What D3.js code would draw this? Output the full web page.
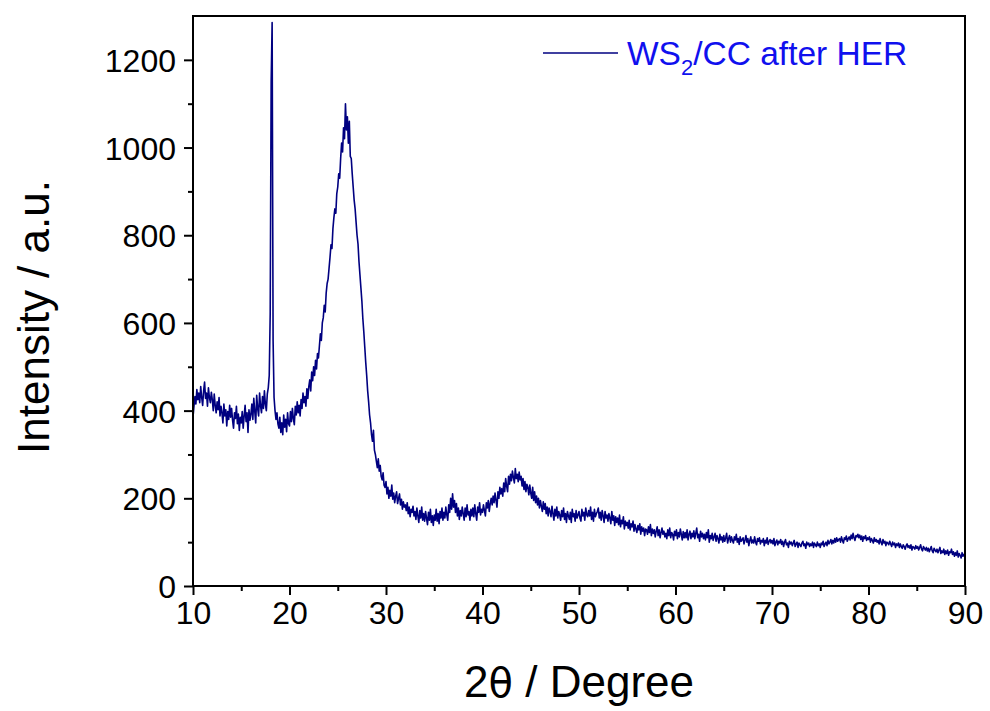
<!DOCTYPE html>
<html>
<head>
<meta charset="utf-8">
<script src="https://cdn.jsdelivr.net/npm/d3@7"></script>
<style>
  html, body { margin: 0; padding: 0; background: #fff; }
  svg { display: block; font-family: "Liberation Sans", Arial, sans-serif; }
</style>
</head>
<body>
<svg id="chart" width="990" height="711"></svg>
<script>
// ---- data ----
const xStart = 10, xStep = 0.1;   // 2θ sampling grid (degrees)
const intensity = [
  385, 410, 432, 415, 448, 425, 440, 418, 455, 430,   // 10
  412, 445, 465, 428, 440, 410, 452, 430, 418, 442,   // 11
  425, 400, 438, 412, 395, 420, 402, 430, 388, 410,   // 12
  395, 372, 415, 388, 402, 365, 398, 380, 412, 385,   // 13
  405, 378, 360, 395, 382, 410, 370, 392, 355, 385,   // 14
  372, 398, 360, 388, 412, 375, 395, 350, 402, 378,   // 15
  392, 415, 380, 428, 398, 372, 435, 405, 388, 440,   // 16
  410, 395, 432, 405, 445, 415, 400, 438, 452, 480,   // 17
  620, 1150, 1285, 560, 430, 400, 380, 395, 370, 360, // 18
  385, 350, 372, 345, 390, 362, 380, 352, 395, 370,   // 19
  365, 398, 375, 405, 382, 368, 410, 390, 420, 395,   // 20
  412, 388, 425, 405, 440, 418, 432, 410, 450, 428,   // 21
  455, 470, 445, 488, 468, 500, 480, 515, 495, 530,   // 22
  520, 548, 575, 560, 600, 612, 640, 625, 668, 690,   // 23
  700, 725, 750, 778, 770, 815, 840, 860, 850, 895,   // 24
  910, 940, 930, 975, 1010, 990, 1045, 1020, 1100, 1040, // 25
  1070, 1010, 1060, 980, 975, 940, 910, 880, 860, 830,   // 26
  800, 780, 740, 710, 680, 650, 610, 580, 545, 510,   // 27
  480, 445, 420, 390, 372, 345, 330, 355, 310, 300,   // 28
  285, 270, 290, 262, 275, 250, 242, 258, 230, 225,   // 29
  238, 210, 225, 200, 218, 205, 230, 198, 212, 190,   // 30
  205, 215, 188, 200, 210, 185, 198, 175, 192, 180,   // 31
  185, 172, 190, 165, 180, 158, 175, 168, 182, 160,   // 32
  170, 152, 178, 160, 145, 172, 155, 180, 150, 165,   // 33
  148, 170, 155, 140, 168, 150, 175, 145, 160, 138,   // 34
  162, 150, 175, 148, 165, 142, 170, 155, 178, 150,   // 35
  168, 155, 180, 162, 150, 185, 168, 200, 175, 210,   // 36
  180, 195, 168, 188, 160, 178, 152, 172, 160, 180,   // 37
  165, 150, 178, 158, 185, 162, 170, 150, 175, 160,   // 38
  178, 158, 185, 165, 150, 180, 168, 190, 162, 175,   // 39
  168, 185, 172, 160, 190, 178, 195, 170, 188, 200,   // 40
  185, 205, 190, 212, 195, 180, 215, 200, 225, 210,   // 41
  222, 205, 235, 215, 245, 228, 215, 250, 232, 255,   // 42
  240, 262, 248, 235, 268, 245, 255, 238, 260, 242,   // 43
  250, 228, 245, 220, 238, 215, 232, 225, 208, 230,   // 44
  212, 200, 225, 195, 215, 190, 205, 185, 200, 178,   // 45
  195, 182, 170, 192, 175, 188, 165, 180, 160, 178,   // 46
  170, 158, 182, 165, 150, 175, 160, 180, 155, 170,   // 47
  162, 150, 172, 158, 178, 152, 165, 145, 170, 160,   // 48
  152, 168, 145, 175, 158, 165, 148, 172, 155, 162,   // 49
  170, 155, 148, 175, 160, 168, 150, 178, 162, 158,   // 50
  172, 160, 180, 152, 168, 148, 175, 158, 165, 170,   // 51
  178, 155, 168, 150, 172, 160, 145, 170, 155, 162,   // 52
  148, 165, 155, 142, 170, 150, 160, 138, 158, 145,   // 53
  155, 140, 162, 135, 150, 142, 158, 130, 148, 138,   // 54
  145, 132, 150, 128, 142, 135, 148, 125, 140, 130,   // 55
  122, 138, 128, 142, 118, 135, 125, 132, 115, 130,   // 56
  128, 118, 135, 122, 140, 115, 130, 120, 128, 112,   // 57
  125, 135, 115, 128, 110, 122, 132, 118, 125, 112,   // 58
  120, 108, 128, 115, 132, 110, 122, 118, 105, 125,   // 59
  115, 128, 108, 122, 112, 130, 118, 105, 124, 110,   // 60
  122, 110, 128, 105, 118, 125, 108, 120, 112, 126,   // 61
  108, 120, 132, 110, 118, 102, 125, 112, 120, 108,   // 62
  118, 105, 122, 110, 128, 100, 115, 108, 120, 104,   // 63
  112, 120, 102, 115, 108, 98, 118, 105, 112, 100,    // 64
  115, 102, 110, 120, 98, 108, 115, 100, 112, 104,    // 65
  98, 112, 105, 118, 100, 108, 95, 112, 102, 106,     // 66
  110, 96, 105, 115, 100, 108, 92, 104, 112, 98,      // 67
  105, 98, 112, 100, 94, 108, 102, 110, 96, 104,      // 68
  100, 108, 92, 104, 98, 110, 95, 102, 106, 98,       // 69
  104, 96, 108, 92, 100, 105, 94, 102, 98, 106,       // 70
  95, 102, 90, 100, 106, 94, 98, 88, 102, 96,         // 71
  100, 92, 98, 104, 90, 96, 100, 88, 98, 94,          // 72
  90, 98, 102, 92, 96, 86, 100, 94, 98, 90,           // 73
  96, 92, 100, 88, 98, 94, 90, 100, 92, 96,           // 74
  88, 98, 94, 102, 90, 96, 100, 92, 104, 96,          // 75
  100, 106, 96, 104, 98, 108, 100, 110, 102, 106,     // 76
  108, 100, 112, 104, 98, 110, 106, 114, 102, 108,    // 77
  112, 105, 116, 108, 120, 110, 104, 115, 112, 118,   // 78
  110, 116, 106, 114, 102, 112, 108, 115, 104, 110,   // 79
  106, 112, 100, 108, 104, 98, 110, 102, 106, 100,    // 80
  104, 96, 108, 100, 94, 106, 98, 102, 92, 100,       // 81
  98, 94, 102, 96, 90, 100, 94, 98, 88, 96,           // 82
  92, 98, 88, 96, 90, 86, 94, 90, 84, 92,             // 83
  96, 88, 92, 86, 94, 82, 90, 88, 84, 92,             // 84
  86, 90, 82, 88, 94, 84, 80, 90, 86, 82,             // 85
  88, 80, 86, 78, 84, 90, 80, 76, 86, 82,             // 86
  78, 84, 76, 82, 88, 74, 80, 76, 84, 72,             // 87
  80, 74, 82, 70, 78, 76, 84, 72, 78, 68,             // 88
  76, 70, 80, 66, 74, 70, 64, 76, 68, 72,             // 89
  70                                                  // 90
];
const xTicks = [10, 20, 30, 40, 50, 60, 70, 80, 90];
const xMinorTicks = [15, 25, 35, 45, 55, 65, 75, 85];
const yTicks = [0, 200, 400, 600, 800, 1000, 1200];
const yMinorTicks = [100, 300, 500, 700, 900, 1100];
const xDomain = [10, 90];
const yDomain = [0, 1300];

// ---- layout ----
const svg = d3.select("#chart");
const L = 193, R = 965, T = 16, B = 586;
const x = d3.scaleLinear().domain(xDomain).range([L, R]);
const y = d3.scaleLinear().domain(yDomain).range([B, T]);

const points = intensity.map((v, i) => [xStart + i * xStep, v]);

// data line
svg.append("path")
  .datum(points)
  .attr("fill", "none")
  .attr("stroke", "#000080")
  .attr("stroke-width", 1.6)
  .attr("stroke-linejoin", "round")
  .attr("d", d3.line().x(d => x(d[0])).y(d => y(d[1])));

// axes
const fontSize = 32;
const xAxis = svg.append("g").attr("transform", `translate(0,${B})`)
  .call(d3.axisBottom(x).tickValues(xTicks).tickSize(9).tickPadding(6).tickFormat(d3.format("d")));
const xMinor = svg.append("g").attr("transform", `translate(0,${B})`)
  .call(d3.axisBottom(x).tickValues(xMinorTicks).tickSize(5).tickFormat(""));
const yAxis = svg.append("g").attr("transform", `translate(${L},0)`)
  .call(d3.axisLeft(y).tickValues(yTicks).tickSize(9).tickPadding(8).tickFormat(d3.format("d")));
const yMinor = svg.append("g").attr("transform", `translate(${L},0)`)
  .call(d3.axisLeft(y).tickValues(yMinorTicks).tickSize(5).tickFormat(""));

[xAxis, xMinor, yAxis, yMinor].forEach(g => {
  g.select(".domain").remove();
  g.selectAll(".tick line").attr("stroke", "#000").attr("stroke-width", 2);
  g.selectAll("text").attr("font-size", fontSize).attr("fill", "#000")
    .attr("font-family", "'Liberation Sans', Arial, sans-serif");
});
yAxis.selectAll("text").attr("dy", "0.36em");

// frame
svg.append("rect")
  .attr("x", L).attr("y", T).attr("width", R - L).attr("height", B - T)
  .attr("fill", "none").attr("stroke", "#000").attr("stroke-width", 2);

// axis titles
const xt = svg.append("text")
  .attr("x", (L + R) / 2).attr("y", 697)
  .attr("text-anchor", "middle").attr("font-size", 44).attr("fill", "#000");
xt.append("tspan").text("2");
xt.append("tspan").attr("font-family", "'DejaVu Sans', sans-serif").attr("font-size", 40).text("θ");
xt.append("tspan").text(" / Degree");

svg.append("text")
  .attr("transform", `translate(49,317) rotate(-90)`)
  .attr("text-anchor", "middle").attr("font-size", 44).attr("fill", "#000")
  .text("Intensity / a.u.");

// legend
svg.append("line")
  .attr("x1", 543).attr("x2", 618).attr("y1", 53).attr("y2", 53)
  .attr("stroke", "#000080").attr("stroke-width", 1.4);
const lt = svg.append("text")
  .attr("x", 627).attr("y", 65).attr("font-size", 33.5).attr("fill", "#1010ee");
lt.append("tspan").text("WS");
lt.append("tspan").attr("font-size", 22).attr("dy", 10).text("2");
lt.append("tspan").attr("dy", -10).text("/CC after HER");
</script>
</body>
</html>
